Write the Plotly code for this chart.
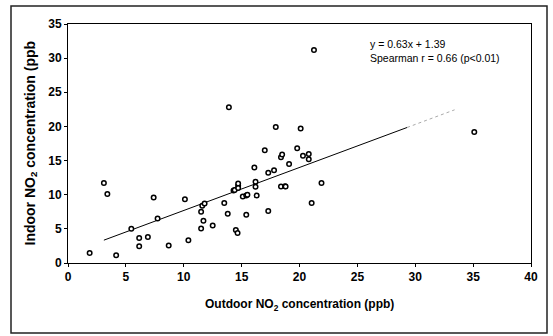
import plotly.graph_objects as go

# Data
outdoor = [1.87, 3.1, 3.4, 4.16, 5.47, 6.15, 6.15, 6.9, 7.4, 7.74, 8.7, 10.1, 10.4,
           11.5, 11.5, 11.7, 11.6, 11.8, 12.5, 13.5, 13.8, 13.9, 14.3, 14.4, 14.5,
           14.65, 14.7, 14.7, 14.7, 15.1, 15.4, 15.5, 15.4, 16.1, 16.2, 16.2, 16.3,
           17.0, 17.3, 17.3, 17.8, 17.95, 18.4, 18.4, 18.5, 18.75, 18.8, 19.1, 19.8,
           20.1, 20.3, 20.8, 20.8, 21.05, 21.25, 21.9, 35.1]
indoor = [1.47, 11.7, 10.1, 1.13, 5.0, 3.67, 2.45, 3.8, 9.6, 6.5, 2.55, 9.35, 3.33,
          5.04, 7.5, 6.2, 8.4, 8.7, 5.5, 8.8, 7.2, 22.8, 10.6, 10.7, 4.85,
          4.4, 11.3, 11.65, 11.0, 9.75, 9.9, 10.0, 7.05, 14.0, 11.9, 11.15, 9.9,
          16.5, 7.6, 13.2, 13.6, 19.9, 11.2, 15.5, 15.9, 11.25, 11.2, 14.5, 16.8,
          19.7, 15.7, 15.95, 15.2, 8.8, 31.2, 11.7, 19.2]

slope = 0.63
intercept = 1.39
line_x_solid = [3.1, 29.3]
line_x_faded = [29.3, 33.4]

tick_vals_x = [0, 5, 10, 15, 20, 25, 30, 35, 40]
tick_vals_y = [0, 5, 10, 15, 20, 25, 30, 35]

eq_text = "y = 0.63x + 1.39"
r_text = "Spearman r = 0.66 (p<0.01)"
x_title = "Outdoor NO<sub>2</sub> concentration (ppb)"
y_title = "Indoor NO<sub>2</sub> concentration (ppb"

fig = go.Figure()

fig.add_trace(go.Scatter(
    x=line_x_solid, y=[slope * v + intercept for v in line_x_solid],
    mode="lines", line=dict(color="black", width=1), showlegend=False, hoverinfo="skip"))
fig.add_trace(go.Scatter(
    x=line_x_faded, y=[slope * v + intercept for v in line_x_faded],
    mode="lines", line=dict(color="#aaaaaa", width=1, dash="dot"), showlegend=False, hoverinfo="skip"))

fig.add_trace(go.Scatter(
    x=outdoor, y=indoor, mode="markers",
    marker=dict(symbol="circle", size=4.5, color="white", line=dict(color="black", width=1.5)),
    showlegend=False))

W, H = 553, 336
ml, mr, mt, mb = 68, 22, 24, 73
pw, ph = W - ml - mr, H - mt - mb

def px(x):
    return (x - ml) / pw

def py(y):
    return (H - mb - y) / ph

font_family = "Arial, Liberation Sans, sans-serif"

fig.update_layout(
    width=W, height=H,
    margin=dict(l=ml, r=mr, t=mt, b=mb),
    paper_bgcolor="white", plot_bgcolor="white",
    font=dict(family=font_family, color="black"),
    xaxis=dict(range=[0, 40], tickvals=tick_vals_x, showgrid=False, zeroline=False,
               showline=True, linecolor="black", linewidth=1, mirror=True,
               ticks="outside", ticklen=3, tickcolor="black",
               tickfont=dict(size=12, family=font_family, weight="bold")),
    yaxis=dict(range=[0, 35], tickvals=tick_vals_y, showgrid=False, zeroline=False,
               showline=True, linecolor="black", linewidth=1, mirror=True,
               ticks="outside", ticklen=3, tickcolor="black",
               tickfont=dict(size=12, family=font_family, weight="bold")),
    shapes=[dict(type="rect", xref="paper", yref="paper",
                 x0=px(11), x1=px(547), y0=py(333), y1=py(6),
                 line=dict(color="#222222", width=1.5))],
    annotations=[
        dict(text=eq_text, xref="paper", yref="paper", x=px(368), y=py(44),
             xanchor="left", yanchor="middle", showarrow=False,
             font=dict(size=10.5, family=font_family)),
        dict(text=r_text, xref="paper", yref="paper", x=px(368), y=py(58),
             xanchor="left", yanchor="middle", showarrow=False,
             font=dict(size=10.5, family=font_family)),
        dict(text=x_title, xref="paper", yref="paper", x=0.5, y=py(305),
             xanchor="center", yanchor="middle", showarrow=False,
             font=dict(size=12, family=font_family, weight="bold")),
        dict(text=y_title, xref="paper", yref="paper", x=px(30), y=0.5,
             xanchor="center", yanchor="middle", showarrow=False, textangle=-90,
             font=dict(size=14, family=font_family, weight="bold")),
    ],
)

fig.write_html("out.html")
